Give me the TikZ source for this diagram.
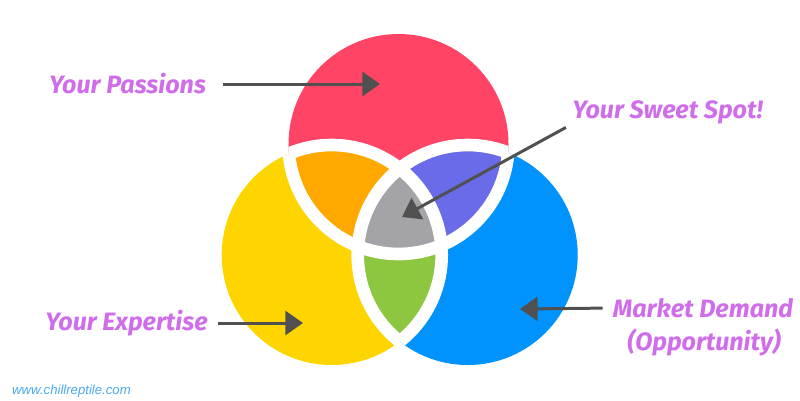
\documentclass[tikz,border=0pt]{standalone}
\usepackage{fontspec}
\setmainfont{Fira Sans}
\newfontfamily\webfont{Liberation Sans}
\usetikzlibrary{positioning,arrows.meta}
\definecolor{passion}{HTML}{FF4466}
\definecolor{expert}{HTML}{FFD500}
\definecolor{market}{HTML}{0093FE}
\definecolor{pasexp}{HTML}{FFA800}
\definecolor{pasmkt}{HTML}{6A6BE8}
\definecolor{expmkt}{HTML}{8DC63F}
\definecolor{sweet}{HTML}{A4A4A8}
\definecolor{pointer}{HTML}{505050}
\definecolor{labeltext}{HTML}{CF6DEB}
\definecolor{weblink}{HTML}{4AA8F0}
\def\circR{110}
\begin{document}
\begin{tikzpicture}[x=0.02cm,y=-0.02cm, every node/.style={inner sep=0pt,align=center},
  lab/.style={text=labeltext,font=\fontsize{14.3}{17}\selectfont\bfseries\itshape},
  point/.style={draw=pointer,line width=1.7pt,-{Triangle[length=10pt,width=13.6pt]}},
  band/.style={draw=white,line width=7.2pt}]
\useasboundingbox (0,0) rectangle (800,400);
\coordinate (top) at (398.5,144); \coordinate (left) at (331.7,255); \coordinate (right) at (467.7,255);
% circles and overlaps
\fill[expert] (left) circle (\circR); \fill[market] (right) circle (\circR); \fill[passion] (top) circle (\circR);
\begin{scope} \clip (top) circle (\circR); \fill[pasexp] (left) circle (\circR); \fill[pasmkt] (right) circle (\circR); \end{scope}
\begin{scope} \clip (left) circle (\circR); \fill[expmkt] (right) circle (\circR); \clip (top) circle (\circR); \fill[sweet] (right) circle (\circR); \end{scope}
% white gaps
\begin{scope} \clip (left) circle (\circR) (right) circle (\circR); \draw[band] (top) circle (\circR); \end{scope}
\begin{scope} \clip (top) circle (\circR) (right) circle (\circR); \draw[band] (left) circle (\circR); \end{scope}
\begin{scope} \clip (top) circle (\circR) (left) circle (\circR); \draw[band] (right) circle (\circR); \end{scope}
% labels
\node[lab] (pas) at (127.5,84) {Your Passions};
\node[lab] (spot) at (667.5,112) {Your Sweet Spot!};
\node[lab] (exp) at (126.5,323) {Your Expertise};
\node[lab] (mkt) at (703,308) {Market Demand}; \node[lab] (opp) at (704,342) {(Opportunity)};
\node[text=weblink,font=\webfont\itshape\fontsize{7.5}{9}\selectfont] (web) at (71.5,391) {www.chillreptile.com};
\coordinate (pastip) at (380,84); \coordinate (spottip) at (402,217);
\coordinate (exptip) at (303,323); \coordinate (mkttip) at (520,309);
\draw[point,shorten <=9.6pt] (pas.east) -- (pastip);
\draw[point,shorten <=4pt] (spot.south west) -- (spottip);
\draw[point,shorten <=5.7pt] (exp.east) -- (exptip);
\draw[point,shorten <=5.7pt] (mkt.west) -- (mkttip);
\end{tikzpicture}
\end{document}
